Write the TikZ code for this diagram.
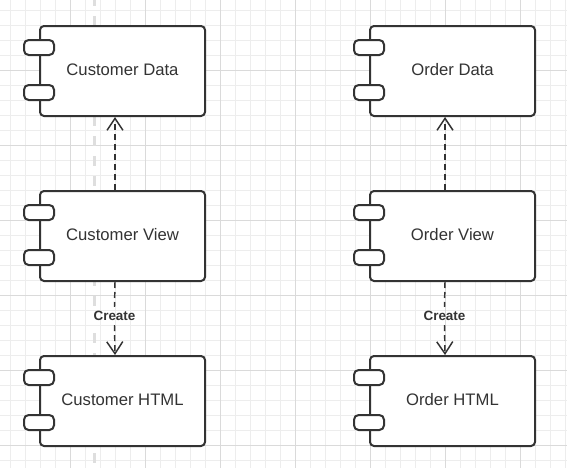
\documentclass[tikz,border=0pt]{standalone}
\usepackage{fontspec}
\setmainfont{Liberation Sans}
\usetikzlibrary{arrows.meta}
\definecolor{ink}{HTML}{333333}
\definecolor{gridminor}{HTML}{EDEDED}
\definecolor{gridmajor}{HTML}{DADADA}
\definecolor{guide}{HTML}{DEDEDE}
\begin{document}
\begin{tikzpicture}[x=0.75pt,y=-0.75pt,
  comp/.style={draw=ink, line width=1.5pt, fill=white, rounded corners=3pt,
    minimum width=123.75pt, minimum height=67.5pt, inner sep=0pt, text depth=2.5pt,
    font=\fontsize{12.5}{15}\selectfont, text=ink},
  tabbox/.style={draw=ink, line width=1.5pt, fill=white, rounded corners=3.5pt},
  dep/.style={draw=ink, line width=1.1pt, dash pattern=on 4.5pt off 3pt},
  headtip/.style={-{Straight Barb[length=9pt,width=12pt]}},
  lbl/.style={font=\bfseries\fontsize{10.1}{12}\selectfont, text=ink, inner sep=3pt},
  minorline/.style={draw=gridminor, line width=0.75pt},
  majorline/.style={draw=gridmajor, line width=0.75pt},
  guideline/.style={draw=guide, line width=2.25pt}
]
\useasboundingbox (0,0) rectangle (567,468);
\fill[white] (0,0) rectangle (567,468);
% grid
\foreach \i in {0,...,37} {
  \pgfmathsetmacro\xx{10.5+15*\i}
  \draw[minorline] (\xx,0) -- (\xx,468);
}
\foreach \j in {0,...,30} {
  \pgfmathsetmacro\yy{10+15*\j}
  \draw[minorline] (0,\yy) -- (567,\yy);
}
\foreach \i in {0,...,7} {
  \pgfmathsetmacro\xx{70.5+75*\i}
  \draw[majorline] (\xx,0) -- (\xx,468);
}
\foreach \j in {0,...,5} {
  \pgfmathsetmacro\yy{70+75*\j}
  \draw[majorline] (0,\yy) -- (567,\yy);
}
% labels (placed first so the guide line can stop at them)
\node[lbl] (c1) at (114.5,316) {Create};
\node[lbl] (c2) at (444.5,316) {Create};
% guide line
\coordinate (gtop) at (94,0);
\coordinate (gbot) at (94,468);
\draw[guideline, dash pattern=on 7.5pt off 7.5pt, dash phase=3pt] (gtop) -- (gtop |- c1.north);
\draw[guideline, dash pattern=on 7.5pt off 7.5pt, dash phase=9pt] (gtop |- c1.south) -- (gbot);
% components
\foreach \n/\x/\y/\t in {cd/122.5/71/Customer Data, cv/122.5/236/Customer View, ch/122.5/401/Customer HTML,
                       od/452.5/71/Order Data, ov/452.5/236/Order View, oh/452.5/401/Order HTML} {
  \node[comp] (\n) at (\x,\y) {\t};
  \draw[tabbox] ([shift={(-15,15)}]\n.north west) rectangle ++(30,15);
  \draw[tabbox] ([shift={(-15,60)}]\n.north west) rectangle ++(30,15);
}
% connectors
\draw[dep, headtip] ([xshift=-5.625pt]cv.north) -- ([xshift=-5.625pt]cd.south);
\draw[dep, headtip] ([xshift=-5.625pt]ov.north) -- ([xshift=-5.625pt]od.south);
\draw[dep] ([xshift=-5.625pt]cv.south) -- (c1.north);
\draw[dep, headtip] (c1.south) -- ([xshift=-5.625pt]ch.north);
\draw[dep] ([xshift=-5.625pt]ov.south) -- (c2.north);
\draw[dep, headtip] (c2.south) -- ([xshift=-5.625pt]oh.north);
\end{tikzpicture}
\end{document}
